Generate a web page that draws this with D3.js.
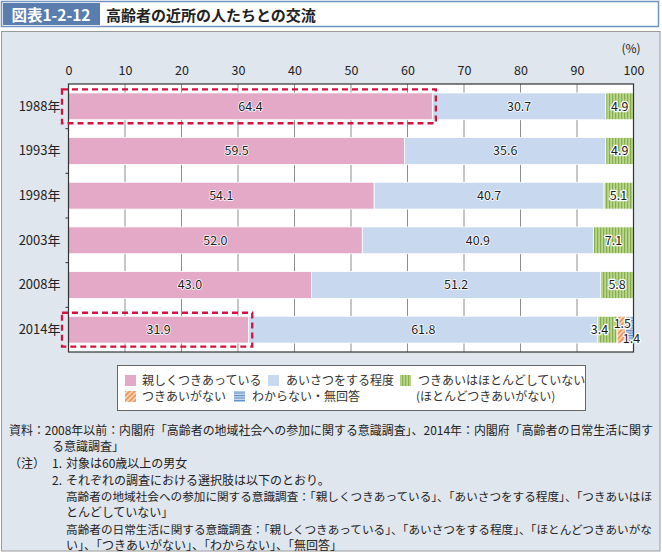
<!DOCTYPE html>
<html>
<head>
<meta charset="utf-8">
<script src="https://cdn.jsdelivr.net/npm/d3@7"></script>
<style>
  body { margin: 0; background: #fff; }
  svg { display: block; font-family: "Noto Sans CJK JP", "Noto Sans", sans-serif; }
</style>
</head>
<body>
<div id="chart"></div>
<script>
// data
const years = ["1988年", "1993年", "1998年", "2003年", "2008年", "2014年"];
const seriesNames = ["親しくつきあっている", "あいさつをする程度", "つきあいはほとんどしていない", "つきあいがない", "わからない・無回答"];
const shitashii = [64.4, 59.5, 54.1, 52.0, 43.0, 31.9];
const aisatsu   = [30.7, 35.6, 40.7, 40.9, 51.2, 61.8];
const hotondo   = [4.9, 4.9, 5.1, 7.1, 5.8, 3.4];
const nai       = [0, 0, 0, 0, 0, 1.5];
const wakaranai = [0, 0, 0, 0, 0, 1.4];
const xTicks = [0, 10, 20, 30, 40, 50, 60, 70, 80, 90, 100];
const highlighted = ["1988年", "2014年"];

const noteLines = [
  { x: 9,  y: 435, t: "資料：2008年以前：内閣府「高齢者の地域社会への参加に関する意識調査」、2014年：内閣府「高齢者の日常生活に関す", len: 644, fs: 12 },
  { x: 52, y: 451, t: "る意識調査」" },
  { x: 9,  y: 468, t: "（注）" },
  { x: 52, y: 468, t: "1." },
  { x: 66, y: 468, t: "対象は60歳以上の男女" },
  { x: 52, y: 485, t: "2." },
  { x: 66, y: 485, t: "それぞれの調査における選択肢は以下のとおり。" },
  { x: 66, y: 501, t: "高齢者の地域社会への参加に関する意識調査：「親しくつきあっている」、「あいさつをする程度」、「つきあいはほ", len: 586, fs: 11 },
  { x: 66, y: 517, t: "とんどしていない」" },
  { x: 66, y: 534, t: "高齢者の日常生活に関する意識調査：「親しくつきあっている」、「あいさつをする程度」、「ほとんどつきあいがな", len: 586, fs: 11 },
  { x: 66, y: 550, t: "い」、「つきあいがない」、「わからない」、「無回答」" }
];

const W = 662, H = 552;
const svg = d3.select("#chart").append("svg")
  .attr("width", W).attr("height", H);

// patterns
const defs = svg.append("defs");
const pg = defs.append("pattern").attr("id", "pGreen")
  .attr("patternUnits", "userSpaceOnUse").attr("width", 3).attr("height", 10);
pg.append("rect").attr("width", 3).attr("height", 10).attr("fill", "#bad689");
pg.append("rect").attr("width", 1.2).attr("height", 10).attr("fill", "#86ad52");

const po = defs.append("pattern").attr("id", "pOrange")
  .attr("patternUnits", "userSpaceOnUse").attr("width", 3.5).attr("height", 3.5)
  .attr("patternTransform", "rotate(45)");
po.append("rect").attr("width", 3.5).attr("height", 3.5).attr("fill", "#f9d2b4");
po.append("rect").attr("width", 1.7).attr("height", 3.5).attr("fill", "#ee955a");

const pb = defs.append("pattern").attr("id", "pBlue")
  .attr("patternUnits", "userSpaceOnUse").attr("width", 10).attr("height", 2.5);
pb.append("rect").attr("width", 10).attr("height", 2.5).attr("fill", "#c9d9ec");
pb.append("rect").attr("width", 10).attr("height", 1.1).attr("fill", "#5f8ec2");

const fills = ["#e4a9c7", "#c8d8ef", "url(#pGreen)", "url(#pOrange)", "url(#pBlue)"];

// title bar
svg.append("rect").attr("x", 1.5).attr("y", 1.5).attr("width", 657).attr("height", 25)
  .attr("fill", "#fff").attr("stroke", "#7193c0").attr("stroke-width", 1.5);
svg.append("rect").attr("x", 3).attr("y", 3).attr("width", 97).attr("height", 22)
  .attr("fill", "#5a7db0");
svg.append("text").attr("x", 51).attr("y", 20.5).attr("text-anchor", "middle")
  .attr("fill", "#fff").attr("font-size", 15.5).attr("font-weight", "bold")
  .text("図表1-2-12");
svg.append("text").attr("x", 106).attr("y", 20.5)
  .attr("fill", "#222").attr("font-size", 15).attr("font-weight", "bold")
  .text("高齢者の近所の人たちとの交流");

// panel
svg.append("rect").attr("x", 1.5).attr("y", 31.5).attr("width", 658.5).attr("height", 519.5)
  .attr("fill", "#dfe6ee").attr("stroke", "#9a9a9a");

// scales
const x = d3.scaleLinear().domain([0, 100]).range([68.5, 633.5]);
const y = d3.scaleBand().domain(years).range([84, 352]).paddingInner(0.4).paddingOuter(0.2);

const g = svg.append("g");

// plot background
g.append("rect").attr("x", x(0)).attr("y", 84).attr("width", x(100) - x(0)).attr("height", 268)
  .attr("fill", "#fff");

// gridlines
g.selectAll("line.grid").data(xTicks.slice(1, -1)).join("line")
  .attr("class", "grid")
  .attr("x1", d => x(d)).attr("x2", d => x(d))
  .attr("y1", 84).attr("y2", 352)
  .attr("stroke", "#8e8e8e").attr("stroke-width", 1);

// stacked bars
const table = years.map((yr, i) => ({
  year: yr, s0: shitashii[i], s1: aisatsu[i], s2: hotondo[i], s3: nai[i], s4: wakaranai[i]
}));
const keys = ["s0", "s1", "s2", "s3", "s4"];
const stacked = d3.stack().keys(keys)(table);

const layers = g.selectAll("g.layer").data(stacked).join("g")
  .attr("class", "layer")
  .attr("fill", (d, i) => fills[i]);

layers.selectAll("rect").data(d => d.filter(p => p[1] - p[0] > 0)).join("rect")
  .attr("x", d => x(d[0]))
  .attr("y", d => y(d.data.year))
  .attr("width", d => x(d[1]) - x(d[0]))
  .attr("height", y.bandwidth())
  .attr("stroke", "#fff").attr("stroke-width", 0.8);

// plot frame
g.append("rect").attr("x", x(0)).attr("y", 84).attr("width", x(100) - x(0)).attr("height", 268)
  .attr("fill", "none").attr("stroke", "#333").attr("stroke-width", 1.2);

// left ticks between categories
const step = y.step();
g.selectAll("line.ytick").data(years.slice(1)).join("line")
  .attr("class", "ytick")
  .attr("x1", x(0) - 3).attr("x2", x(0))
  .attr("y1", d => y(d) - step * 0.2).attr("y2", d => y(d) - step * 0.2)
  .attr("stroke", "#333");

// top axis labels
const axTop = g.append("g").attr("transform", "translate(0,84)")
  .call(d3.axisTop(x).tickValues(xTicks).tickSize(0).tickPadding(9));
axTop.select(".domain").remove();
axTop.selectAll("text").attr("font-size", 12.5).attr("fill", "#222")
  .attr("font-family", "\"Noto Sans CJK JP\", sans-serif");
svg.append("text").attr("x", 631).attr("y", 53).attr("text-anchor", "middle")
  .attr("font-size", 12).attr("fill", "#222").text("(%)");

// left axis labels
const axLeft = g.append("g").attr("transform", `translate(${x(0)},0)`)
  .call(d3.axisLeft(y).tickSize(0).tickPadding(8));
axLeft.select(".domain").remove();
axLeft.selectAll("text").attr("font-size", 13).attr("fill", "#222")
  .attr("font-family", "\"Noto Sans CJK JP\", sans-serif");

// value labels
const nudge = { "2014年": [[0, 0], [0, 0], [-8, 0], [1, -6], [2, 9]] };
const fmt = d3.format(".1f");
stacked.forEach((layer, si) => {
  g.selectAll(null).data(layer.filter(p => p[1] - p[0] > 0)).join("text")
    .attr("x", d => (x(d[0]) + x(d[1])) / 2 + ((nudge[d.data.year] || [])[si] || [0, 0])[0])
    .attr("y", d => y(d.data.year) + y.bandwidth() / 2 + ((nudge[d.data.year] || [])[si] || [0, 0])[1])
    .attr("dy", "0.35em")
    .attr("text-anchor", "middle")
    .attr("font-size", 12.5)
    .attr("fill", "#1a1a1a")
    .attr("stroke", "#fff").attr("stroke-width", si >= 2 ? 2.5 : 1.5)
    .attr("paint-order", "stroke").attr("stroke-linejoin", "round")
    .text(d => fmt(d[1] - d[0]));
});

// dashed highlight boxes around the first series
highlighted.forEach(yr => {
  const i = years.indexOf(yr);
  const x0 = x(0) - 6.5, x1 = x(shitashii[i]) + 3.5;
  const y0 = y(yr) - 3.5, y1 = y(yr) + y.bandwidth() + 3.5;
  g.append("rect").attr("x", x0).attr("y", y0)
    .attr("width", x1 - x0).attr("height", y1 - y0)
    .attr("fill", "none").attr("stroke", "#d3123e")
    .attr("stroke-width", 2.3).attr("stroke-dasharray", "6,4");
});

// legend
const lg = svg.append("g");
lg.append("rect").attr("x", 117.5).attr("y", 365.5).attr("width", 468).attr("height", 45)
  .attr("fill", "#fff").attr("stroke", "#666");
const legendPos = [
  { sx: 125, tx: 142, y: 381 },
  { sx: 268, tx: 286, y: 381 },
  { sx: 400, tx: 418, y: 381 },
  { sx: 125, tx: 142, y: 397 },
  { sx: 234, tx: 252, y: 397 }
];
seriesNames.forEach((name, i) => {
  const p = legendPos[i];
  lg.append("rect").attr("x", p.sx).attr("y", p.y - 6).attr("width", 11).attr("height", 11)
    .attr("fill", fills[i]);
  lg.append("text").attr("x", p.tx).attr("y", p.y).attr("dy", "0.35em")
    .attr("font-size", 12).attr("fill", "#333").text(name);
});
lg.append("text").attr("x", 416).attr("y", 397).attr("dy", "0.35em")
  .attr("font-size", 12).attr("fill", "#333").text("(ほとんどつきあいがない)");

// notes
const ng = svg.append("g");
noteLines.forEach(n => {
  const t = ng.append("text").attr("x", n.x).attr("y", n.y)
    .attr("font-size", n.fs || 12).attr("fill", "#222").text(n.t);
  if (n.len) t.attr("textLength", n.len).attr("lengthAdjust", "spacingAndGlyphs");
});
</script>
</body>
</html>
